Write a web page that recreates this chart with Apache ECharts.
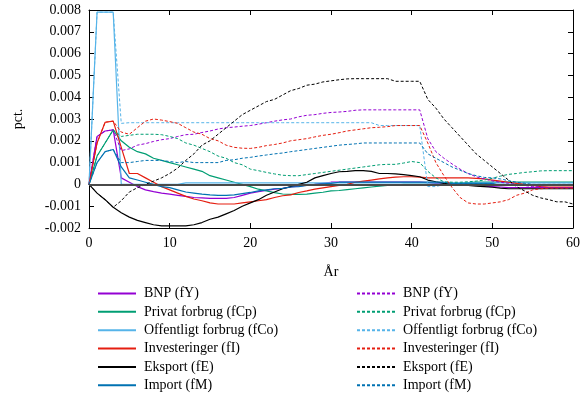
<!DOCTYPE html>
<html><head><meta charset="utf-8">
<script src="https://cdn.jsdelivr.net/npm/echarts@6/dist/echarts.min.js"></script>
<style>html,body{margin:0;padding:0;background:#fff}#c{width:583px;height:396px}</style>
</head><body><div id="c"></div>
<script>
const years = [0,1,2,3,4,5,6,7,8,9,10,11,12,13,14,15,16,17,18,19,20,21,22,23,24,25,26,27,28,29,30,31,32,33,34,35,36,37,38,39,40,41,42,43,44,45,46,47,48,49,50,51,52,53,54,55,56,57,58,59,60];
const yTicks = [-0.002,-0.001,0,0.001,0.002,0.003,0.004,0.005,0.006,0.007,0.008];
const xTicks = [0,10,20,30,40,50,60];
const namesSolid = ['BNP (fY)','Privat forbrug (fCp)','Offentligt forbrug (fCo)','Investeringer (fI)','Eksport (fE)','Import (fM)'];
const colors = ['#9400D3','#009E73','#56B4E9','#E51E10','#000000','#0072B2'];

const fY_s = [0,0.0022,0.00245,0.0025,0.0003,0.0001,-0.0001,-0.00025,-0.00033,-0.0004,-0.00045,-0.0005,-0.00055,-0.0006,-0.00062,-0.00064,-0.00064,-0.00064,-0.0006,-0.0005,-0.0004,-0.00033,-0.00027,-0.00022,-0.00018,-0.00012,-0.00008,-0.00004,0,0.00005,0.0001,0.0001,0.0001,0.0001,0.0001,0.0001,0.0001,0.0001,0.0001,0.0001,0.0001,0.0001,0.00008,0.00005,0.00003,0,0,-0.00003,-0.00005,-0.00008,-0.0001,-0.00012,-0.00015,-0.00015,-0.00015,-0.00015,-0.00015,-0.00015,-0.00015,-0.00015,-0.00015];
const fY_d = [0,0.0022,0.00245,0.0025,0.00155,0.00163,0.0018,0.00187,0.00197,0.00205,0.0021,0.0022,0.00228,0.0023,0.00238,0.00245,0.00254,0.0026,0.00263,0.00267,0.0027,0.00276,0.00283,0.0029,0.00296,0.003,0.0031,0.00317,0.0032,0.00326,0.0033,0.00332,0.00335,0.0034,0.00342,0.00342,0.00342,0.00342,0.00342,0.00342,0.00342,0.00342,0.0021,0.0015,0.0012,0.00094,0.0007,0.0005,0.00035,0.00025,0.00016,0.0001,0.00005,0,-0.00005,-0.0001,-0.00012,-0.00015,-0.00015,-0.00015,-0.00015];
const fCp_s = [0,0.0013,0.0019,0.0025,0.002,0.0017,0.0015,0.0014,0.0012,0.0011,0.001,0.0009,0.0008,0.0007,0.0006,0.0004,0.0003,0.0002,0.0001,0,-0.0001,-0.00022,-0.0003,-0.00038,-0.00044,-0.00046,-0.00046,-0.00045,-0.0004,-0.00036,-0.0003,-0.00028,-0.00024,-0.0002,-0.00016,-0.00012,-0.00008,-0.00005,-0.00003,0,0,0,0,0,0,0.00003,0.00005,0.00008,0.0001,0.0001,0.0001,0.0001,0.0001,0.0001,0.0001,0.0001,0.0001,0.0001,0.0001,0.0001,0.0001];
const fCp_d = [0,0.0013,0.0019,0.0025,0.0022,0.00225,0.0023,0.0023,0.0023,0.00228,0.0022,0.0021,0.0019,0.0018,0.00165,0.0015,0.0013,0.0012,0.001,0.0009,0.0007,0.00063,0.00055,0.00048,0.00042,0.0004,0.0004,0.00045,0.0005,0.00055,0.0006,0.00065,0.0007,0.00075,0.0008,0.00085,0.0009,0.00092,0.00092,0.00098,0.00105,0.001,0.0006,0.0003,0.00012,0.0001,0.0001,0.00012,0.00015,0.0002,0.00028,0.00038,0.00046,0.0005,0.00055,0.00058,0.00062,0.00063,0.00063,0.00063,0.00063];
const fCo_s = [0,0.0079,0.0079,0.0079,0,0,0,0,0,0,0,0,0.00007,0.00007,0.00007,0.00007,0.00007,0.00007,0.00007,0.00007,0.00007,0.00007,0.00007,0.00007,0.00007,0.00007,0.00007,0.00007,0.00007,0.00007,0.00007,0.00007,0.00007,0.00007,0.00007,0.00007,0.00007,0.00007,0.00007,0.00007,0.00007,0.00007,0.00007,0.00007,0.00007,0.00007,0.00007,0.00007,0.00007,0.00007,0.00007,0.00007,0.00007,0.00007,0.00007,0.00007,0.00007,0.00007,0.00007,0.00007,0.00007];
const fCo_d = [0,0.0079,0.0079,0.0079,0.0028,0.00283,0.00283,0.00283,0.00283,0.00283,0.00283,0.00283,0.00283,0.00283,0.00283,0.00283,0.00283,0.00283,0.00283,0.00283,0.00283,0.00283,0.00283,0.00283,0.00283,0.00283,0.00283,0.00283,0.00283,0.00283,0.00283,0.00283,0.00283,0.00283,0.00283,0.00283,0.0027,0.0027,0.0027,0.0027,0.0027,0.0027,-0.0001,-0.0001,0,0,0,0,0,0,0,0,0,0,0,0,0,0,0,0,0];
const fI_s = [0,0.0019,0.00285,0.0029,0.0017,0.0005,0.0005,0.0003,0.0001,-0.0001,-0.00025,-0.0004,-0.00055,-0.00067,-0.00075,-0.00085,-0.0009,-0.0009,-0.0009,-0.00085,-0.0008,-0.00075,-0.0007,-0.0006,-0.00052,-0.00048,-0.00037,-0.0003,-0.00022,-0.00016,-0.0001,-0.00005,0,0.0001,0.00015,0.0002,0.00025,0.0003,0.00033,0.00035,0.00035,0.00033,0.0003,0.0003,0.0003,0.0003,0.0003,0.0003,0.00028,0.00025,0.0002,0.00015,0.0001,0.00005,0,-0.00005,-0.0001,-0.00012,-0.00012,-0.00012,-0.00012];
const fI_d = [0,0.0019,0.00285,0.0029,0.0024,0.0023,0.0026,0.0029,0.003,0.00295,0.00288,0.0028,0.0026,0.0024,0.0023,0.0021,0.002,0.0018,0.0017,0.00166,0.00165,0.0017,0.00178,0.00183,0.0019,0.002,0.00205,0.0021,0.00218,0.00225,0.0023,0.00237,0.00245,0.0025,0.00255,0.0026,0.00262,0.00265,0.0027,0.0027,0.0027,0.0027,0.0019,0.001,0.0004,-0.00014,-0.0006,-0.00085,-0.0009,-0.0009,-0.00085,-0.0008,-0.0007,-0.0005,-0.0004,-0.00025,-0.0002,-0.00017,-0.00017,-0.00017,-0.00017];
const fE_s = [0,-0.0004,-0.0007,-0.00105,-0.0013,-0.0015,-0.00165,-0.00175,-0.00185,-0.0019,-0.0019,-0.0019,-0.0019,-0.00185,-0.00175,-0.0016,-0.0015,-0.00135,-0.0012,-0.001,-0.00085,-0.0007,-0.0005,-0.00035,-0.0002,-0.0001,0,0.0001,0.0003,0.0004,0.0005,0.00058,0.0006,0.00063,0.00063,0.0006,0.0005,0.0005,0.00048,0.00045,0.0004,0.00035,0.0002,0.00012,0.00005,0,-0.00003,-0.00005,-0.00008,-0.0001,-0.00013,-0.00017,-0.0002,-0.0002,-0.0002,-0.0002,-0.0002,-0.0002,-0.0002,-0.0002,-0.0002];
const fE_d = [0,-0.0004,-0.0007,-0.00105,-0.00075,-0.00035,-0.00015,0,0.00015,0.0003,0.0005,0.00075,0.0011,0.0014,0.0018,0.002,0.0023,0.0026,0.0029,0.0032,0.0034,0.0036,0.0038,0.0039,0.0041,0.0043,0.0044,0.00455,0.0046,0.0047,0.00475,0.0048,0.00484,0.00485,0.00485,0.00485,0.00485,0.00485,0.00473,0.00473,0.00473,0.00473,0.0039,0.0035,0.003,0.0026,0.0022,0.0018,0.0014,0.0011,0.0008,0.0005,0.0002,-0.0001,-0.0003,-0.0005,-0.00062,-0.0007,-0.0008,-0.0008,-0.0009];
const fM_s = [0,0.001,0.0015,0.0016,0.0008,0.0003,0.0002,0.0001,0,-0.0001,-0.00015,-0.00025,-0.00035,-0.0004,-0.00045,-0.00048,-0.0005,-0.0005,-0.00048,-0.00042,-0.00037,-0.0003,-0.00025,-0.0002,-0.00018,-0.00012,-0.0001,-0.00005,0,0.00003,0.00005,0.0001,0.0001,0.0001,0.0001,0.0001,0.0001,0.0001,0.0001,0.0001,0.0001,0.0001,0.0001,0.0001,0.0001,0.00005,0.00005,0.00005,0.00005,0.00005,0.00005,-0.00005,-0.00005,-0.00005,-0.00005,-0.00005,-0.00005,-0.00005,-0.00005,-0.00005,-0.00005];
const fM_d = [0,0.001,0.0015,0.0016,0.001,0.001,0.00105,0.0011,0.0011,0.0011,0.00105,0.001,0.00105,0.001,0.001,0.001,0.001,0.0011,0.00113,0.0012,0.00124,0.0013,0.00135,0.0014,0.00144,0.0015,0.00155,0.0016,0.00165,0.0017,0.00175,0.0018,0.00183,0.00186,0.0019,0.0019,0.0019,0.0019,0.0019,0.0019,0.0019,0.0019,0.0014,0.0012,0.001,0.0008,0.00065,0.0005,0.0004,0.00032,0.0003,0.00025,0.00017,0.0001,0.00005,0,0,0,0,0,0];

const solidVals = [fY_s, fCp_s, fCo_s, fI_s, fE_s, fM_s];
const dashVals = [fY_d, fCp_d, fCo_d, fI_d, fE_d, fM_d];

const FONT = 'Liberation Serif';
function mk(name, vals, color, dashed) {
  return {
    type: 'line', name: name, xAxisIndex: 0, yAxisIndex: 0,
    data: years.map((x, i) => [x, vals[i]]),
    symbol: 'none', showSymbol: false, animation: false,
    lineStyle: { color: color, width: dashed ? 1 : 1.2, type: dashed ? [3, 2] : 'solid' },
    itemStyle: { color: color }
  };
}
const series = [];
namesSolid.forEach((n, i) => series.push(mk(n, solidVals[i], colors[i], false)));
namesSolid.forEach((n, i) => series.push(mk(n + ' ', dashVals[i], colors[i], true)));
series[0].markLine = {
  silent: true, symbol: 'none', animation: false, label: { show: false },
  lineStyle: { color: '#4a4a4a', width: 2, type: 'solid' },
  data: [{ yAxis: 0 }]
};

const axisCommon = {
  axisLine: { show: true, onZero: false, lineStyle: { color: '#000', width: 1 } },
  axisTick: { show: true, inside: true, length: 5, lineStyle: { color: '#000' } },
  splitLine: { show: false }
};
const yFmt = v => Math.abs(v) < 1e-9 ? '0' : v.toFixed(3);

const legendCommon = {
  orient: 'vertical', itemWidth: 38, itemHeight: 14, itemGap: 4.35, padding: 0, height: 130,
  textStyle: { fontFamily: FONT, fontSize: 14, color: '#000', padding: [0, 0, 0, 3], lineHeight: 14 },
  itemStyle: { opacity: 0 },
  selectedMode: false
};

const chart = echarts.init(document.getElementById('c'), null, { renderer: 'canvas' });
chart.setOption({
  backgroundColor: '#fff',
  animation: false,
  textStyle: { fontFamily: FONT },
  grid: { left: 89, right: 8, top: 10, bottom: 168, containLabel: false },
  xAxis: [
    Object.assign({ type: 'value', min: xTicks[0], max: xTicks[xTicks.length - 1], interval: 10, position: 'bottom',
      name: 'År', nameLocation: 'middle', nameGap: 37,
      nameTextStyle: { fontFamily: FONT, fontSize: 14, color: '#000' },
      axisLabel: { fontFamily: FONT, fontSize: 14, color: '#000', margin: 8 } }, axisCommon),
    Object.assign({ type: 'value', min: xTicks[0], max: xTicks[xTicks.length - 1], interval: 10, position: 'top',
      axisLabel: { show: false } }, axisCommon)
  ],
  yAxis: [
    Object.assign({ type: 'value', min: yTicks[0], max: yTicks[yTicks.length - 1], interval: 0.001, position: 'left',
      name: 'pct.', nameLocation: 'middle', nameGap: 64, nameRotate: 90,
      nameTextStyle: { fontFamily: FONT, fontSize: 14, color: '#000' },
      axisLabel: { fontFamily: FONT, fontSize: 14, color: '#000', margin: 8, formatter: yFmt } }, axisCommon),
    Object.assign({ type: 'value', min: yTicks[0], max: yTicks[yTicks.length - 1], interval: 0.001, position: 'right',
      axisLabel: { show: false } }, axisCommon)
  ],
  legend: [
    Object.assign({}, legendCommon, { left: 97, top: 286.5, data: namesSolid.slice() }),
    Object.assign({}, legendCommon, { left: 356, top: 286.5, data: namesSolid.map(n => n + ' ') })
  ],
  series: series
});
</script>
</body></html>
